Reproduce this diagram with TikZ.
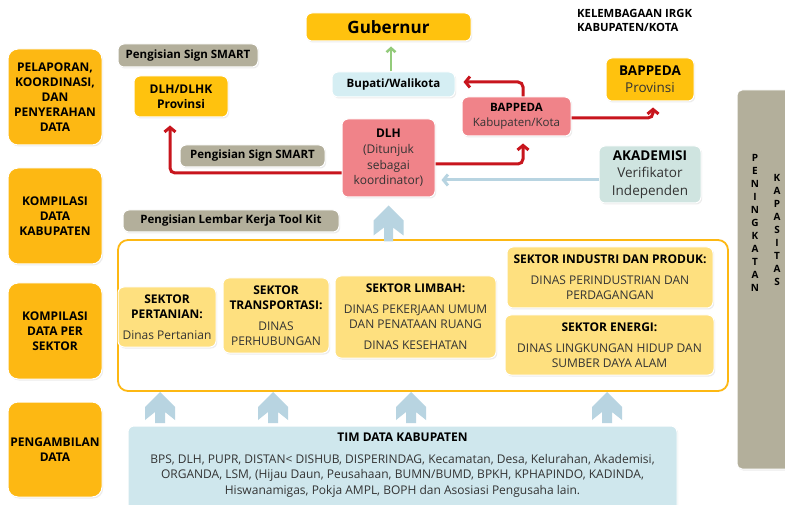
\documentclass[tikz,border=0pt]{standalone}
\usepackage{fontspec}
\setmainfont{Open Sans}
\usetikzlibrary{arrows.meta,shadows,calc}
\definecolor{lgold}{HTML}{FDB813}
\definecolor{gold}{HTML}{FFC20E}
\definecolor{sect}{HTML}{FEE07F}
\definecolor{pinkb}{HTML}{F08389}
\definecolor{redl}{HTML}{C8151D}
\definecolor{bupb}{HTML}{D5EEF3}
\definecolor{timb}{HTML}{CFE7ED}
\definecolor{arrb}{HTML}{B8D4E1}
\definecolor{akadb}{HTML}{CFE4E0}
\definecolor{grayb}{HTML}{B3AF9B}
\definecolor{greena}{HTML}{93CB7B}
\definecolor{txt}{HTML}{333333}
\newcommand\myfs[2]{\fontsize{#1}{#2}\selectfont}
\newcommand\hb[1]{\textcolor{black}{\bfseries #1}}
\tikzset{
  box/.style={rounded corners=6pt, draw=white, line width=1pt, inner sep=0pt, align=center,
    text=txt, font=\myfs{12}{15},
    drop shadow={shadow xshift=1.2pt, shadow yshift=-1.5pt, opacity=0.15}},
  leftbox/.style={box, fill=lgold, rounded corners=10pt, minimum width=94pt, minimum height=96pt,
    text=black, font=\bfseries\myfs{12}{15}},
  graybox/.style={box, fill=grayb, text=black, font=\bfseries\myfs{11.5}{14}},
  sectbox/.style={box, fill=sect},
  redarr/.style={draw=redl, line width=3pt, rounded corners=5pt,
    -{Straight Barb[length=4.5pt,width=11pt]}},
  bluearr/.style={draw=arrb, line width=3pt, -{Straight Barb[length=4.5pt,width=11pt]}},
  greenarr/.style={draw=greena, line width=2.5pt, -{Straight Barb[length=4pt,width=9pt]}},
  blockup/.pic={\fill[arrb] (0,0) -- (15,15) -- (15,28) -- (5,20) -- (5,31) -- (-5,31) -- (-5,20) -- (-15,28) -- (-15,15) -- cycle;},
  blockuplong/.pic={\fill[arrb] (0,0) -- (15,15) -- (15,30) -- (4.5,22) -- (4.5,36) -- (-4.5,36) -- (-4.5,22) -- (-15,30) -- (-15,15) -- cycle;},
}
\begin{document}
\begin{tikzpicture}[x=1pt,y=-1pt]
\useasboundingbox (0,0) rectangle (785,505);
\fill[white] (0,0) rectangle (785,505);

% right gray column
\node[box, fill=grayb, minimum width=63pt, minimum height=379pt, rounded corners=5pt] (cap) at (768.5,279.5) {};
\node[font=\bfseries\myfs{10}{13}, align=center, text=black] (pen) at (755,223) {P\\E\\N\\I\\N\\G\\K\\A\\T\\A\\N};
\node[font=\bfseries\myfs{10}{13}, align=center, text=black] (kap) at (777,229.5) {K\\A\\P\\A\\S\\I\\T\\A\\S};

% left column
\node[leftbox] (l1) at (55,97) {PELAPORAN,\\KOORDINASI,\\DAN\\PENYERAHAN\\DATA};
\node[leftbox] (l2) at (55,216) {KOMPILASI\\DATA\\KABUPATEN};
\node[leftbox] (l3) at (55,331) {KOMPILASI\\DATA PER\\SEKTOR};
\node[leftbox, minimum height=95pt] (l4) at (55,449.5) {PENGAMBILAN\\DATA};

% title
\node[anchor=west, align=left, font=\bfseries\myfs{11.3}{14}, inner sep=0pt] (kel) at (577,20.5) {KELEMBAGAAN IRGK\\KABUPATEN/KOTA};

% top boxes
\node[graybox, minimum width=140pt, minimum height=23pt] (sign1) at (188,55.5) {Pengisian Sign SMART};
\node[box, fill=gold, minimum width=94pt, minimum height=41pt, text=black, font=\bfseries\myfs{12}{15}] (dlhprov) at (181,96.5) {DLH/DLHK\\Provinsi};
\node[box, fill=gold, minimum width=165pt, minimum height=28pt, text=black, font=\bfseries\myfs{17}{20}] (gub) at (388.5,27) {Gubernur};
\node[box, fill=bupb, minimum width=123pt, minimum height=25pt, text=black, font=\bfseries\myfs{11.5}{14}] (bupati) at (393.5,84.5) {Bupati/Walikota};
\node[box, fill=pinkb, minimum width=109pt, minimum height=39pt, font=\myfs{11.5}{15}] (bappkab) at (516.5,116.5) {\hb{BAPPEDA}\\Kabupaten/Kota};
\node[box, fill=pinkb, minimum width=93pt, minimum height=78pt, font=\myfs{12}{15.7}] (dlh) at (388.5,158) {\hb{DLH}\\(Ditunjuk\\sebagai\\koordinator)};
\node[box, fill=gold, minimum width=88pt, minimum height=43pt, font=\myfs{13.5}{17}] (bappprov) at (650,79.5) {\hb{BAPPEDA}\\Provinsi};
\node[box, fill=akadb, minimum width=102pt, minimum height=57pt, font=\myfs{13.5}{17.5}] (akad) at (650,174.5) {\hb{AKADEMISI}\\Verifikator\\Independen};
\node[graybox, minimum width=145pt, minimum height=22pt] (sign2) at (252.5,156) {Pengisian Sign SMART};
\node[graybox, minimum width=216pt, minimum height=22pt] (toolkit) at (231,221) {Pengisian Lembar Kerja Tool Kit};

% frame
\node[draw=lgold, line width=1.8pt, rounded corners=10pt, minimum width=610pt, minimum height=151pt, inner sep=0pt] (frame) at (423,315.5) {};

% sector boxes
\node[sectbox, minimum width=98pt, minimum height=60pt] (pert) at (167,317) {\hb{SEKTOR}\\\hb{PERTANIAN:}\\[6pt]Dinas Pertanian};
\node[sectbox, minimum width=106pt, minimum height=75pt] (trans) at (276,315.5) {\hb{SEKTOR}\\\hb{TRANSPORTASI:}\\[6pt]DINAS\\PERHUBUNGAN};
\node[sectbox, minimum width=161pt, minimum height=82pt] (limbah) at (415.5,317) {\hb{SEKTOR LIMBAH:}\\[6pt]DINAS PEKERJAAN UMUM\\DAN PENATAAN RUANG\\[6pt]DINAS KESEHATAN};
\node[sectbox, minimum width=206pt, minimum height=61pt] (industri) at (610,277.5) {\hb{SEKTOR INDUSTRI DAN PRODUK:}\\[6pt]DINAS PERINDUSTRIAN DAN\\PERDAGANGAN};
\node[sectbox, minimum width=209pt, minimum height=60pt] (energi) at (609.5,345) {\hb{SEKTOR ENERGI:}\\[6pt]DINAS LINGKUNGAN HIDUP DAN\\SUMBER DAYA ALAM};

% tim data
\node[box, fill=timb, minimum width=549pt, minimum height=86pt] (tim) at (402.5,469) {};
\node[align=center, text=txt, font=\myfs{12}{15.5}] (timtext) at (402.5,465) {\hb{TIM DATA KABUPATEN}\\[6pt]BPS, DLH, PUPR, DISTAN< DISHUB, DISPERINDAG, Kecamatan, Desa, Kelurahan, Akademisi,\\ORGANDA, LSM, (Hijau Daun, Peusahaan, BUMN/BUMD, BPKH, KPHAPINDO, KADINDA,\\Hiswanamigas, Pokja AMPL, BOPH dan Asosiasi Pengusaha lain.};

% block arrows
\pic at ([yshift=-8pt]dlh.south) {blockuplong};
\pic at (160,392) {blockup};
\pic at (273,392) {blockup};
\pic at (411,392) {blockup};
\pic at (607,392) {blockup};

% connectors
\draw[redarr] ([yshift=-15pt]dlh.west) -| ([xshift=-11pt,yshift=-8pt]dlhprov.south);
\draw[redarr] ([yshift=-6pt]dlh.east) -| ([xshift=6.5pt,yshift=-7pt]bappkab.south);
\draw[redarr] ([xshift=6.5pt]bappkab.north) |- ([xshift=8pt,yshift=2.5pt]bupati.east);
\draw[redarr] ([yshift=-1.5pt]bappkab.east) -| ([xshift=3pt,yshift=-6pt]bappprov.south);
\draw[bluearr] ([yshift=-5.5pt]akad.west) -- ([xshift=6pt,yshift=-22pt]dlh.east);
\draw[greenarr] ([xshift=-2.5pt]bupati.north) -- ([xshift=2.5pt,yshift=-5pt]gub.south);
\end{tikzpicture}
\end{document}
